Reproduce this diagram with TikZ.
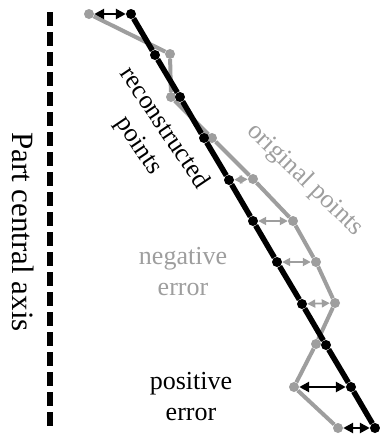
\documentclass[tikz,border=0pt]{standalone}
\usepackage{fontspec}
\setmainfont{Liberation Serif}
\usetikzlibrary{arrows.meta}
\definecolor{origgray}{gray}{0.62}
\begin{document}
\begin{tikzpicture}[x=1pt, y=-1pt,
  lbl/.style={font=\fontsize{26}{31}\selectfont, inner sep=0pt},
  recpt/.style={circle, fill=black, inner sep=0pt, minimum size=10pt},
  origpt/.style={circle, fill=origgray, inner sep=0pt, minimum size=10pt},
  recline/.style={line width=5.5pt, line join=round},
  origline/.style={origgray, line width=4pt, line join=round},
  poserr/.style={{Triangle[length=10pt,width=10pt]}-{Triangle[length=10pt,width=10pt]}, line width=2.5pt},
  negerr/.style={origgray, {Triangle[length=8pt,width=8pt]}-{Triangle[length=8pt,width=8pt]}, line width=1.8pt}]
\useasboundingbox (0,0) rectangle (380,437);
% labels
\node[font=\fontsize{31}{36}\selectfont, inner sep=0pt, rotate=-90] (axislabel) at (23,232) {Part central axis};
\node[lbl, rotate=-56, align=center] (reclabel) at (151,137) {reconstructed\\points};
\node[lbl, text=origgray, rotate=-44] (origlabel) at (305,180) {original points};
\node[lbl, text=origgray, align=center] (neglabel) at (183,272) {negative\\error};
\node[lbl, align=center] (poslabel) at (191,397) {positive\\error};
% axis
\coordinate (axtop) at (50,12);
\coordinate (axbot) at (50,428);
\draw[line width=6pt, dash pattern=on 14pt off 6pt] (axtop) -- (axbot);
% original points
\node[origpt] (g1) at (89,14) {};
\node[origpt] (g2) at (170,54) {};
\node[origpt] (g3) at (171,97) {};
\node[origpt] (g4) at (212,138) {};
\node[origpt] (g5) at (253,179) {};
\node[origpt] (g6) at (293,221) {};
\node[origpt] (g7) at (316,262) {};
\node[origpt] (g8) at (335,303) {};
\node[origpt] (g9) at (316,344) {};
\node[origpt] (g10) at (294,387) {};
\node[origpt] (g11) at (338,428) {};
\draw[origline] (g1) -- (g2) -- (g3) -- (g4) -- (g5) -- (g6) -- (g7) -- (g8) -- (g9) -- (g10) -- (g11);
% reconstructed points
\node[recpt] (b1) at (131,14) {};
\node[recpt] (b2) at (155,55) {};
\node[recpt] (b3) at (180,97) {};
\node[recpt] (b4) at (204,138) {};
\node[recpt] (b5) at (229,180) {};
\node[recpt] (b6) at (253,221) {};
\node[recpt] (b7) at (277,262) {};
\node[recpt] (b8) at (302,304) {};
\node[recpt] (b9) at (326,345) {};
\node[recpt] (b10) at (351,387) {};
\node[recpt] (b11) at (375,428) {};
% errors
\draw[negerr] (b5) -- (g5);
\draw[negerr] (b6) -- (g6);
\draw[negerr] (b7) -- (g7);
\draw[negerr] (b8) -- (g8);
\draw[recline] (b1) -- (b2) -- (b3) -- (b4) -- (b5) -- (b6) -- (b7) -- (b8) -- (b9) -- (b10) -- (b11);
\draw[poserr] (b1) -- (g1);
\draw[poserr] (b10) -- (g10);
\draw[poserr] (b11) -- (g11);
\end{tikzpicture}
\end{document}
